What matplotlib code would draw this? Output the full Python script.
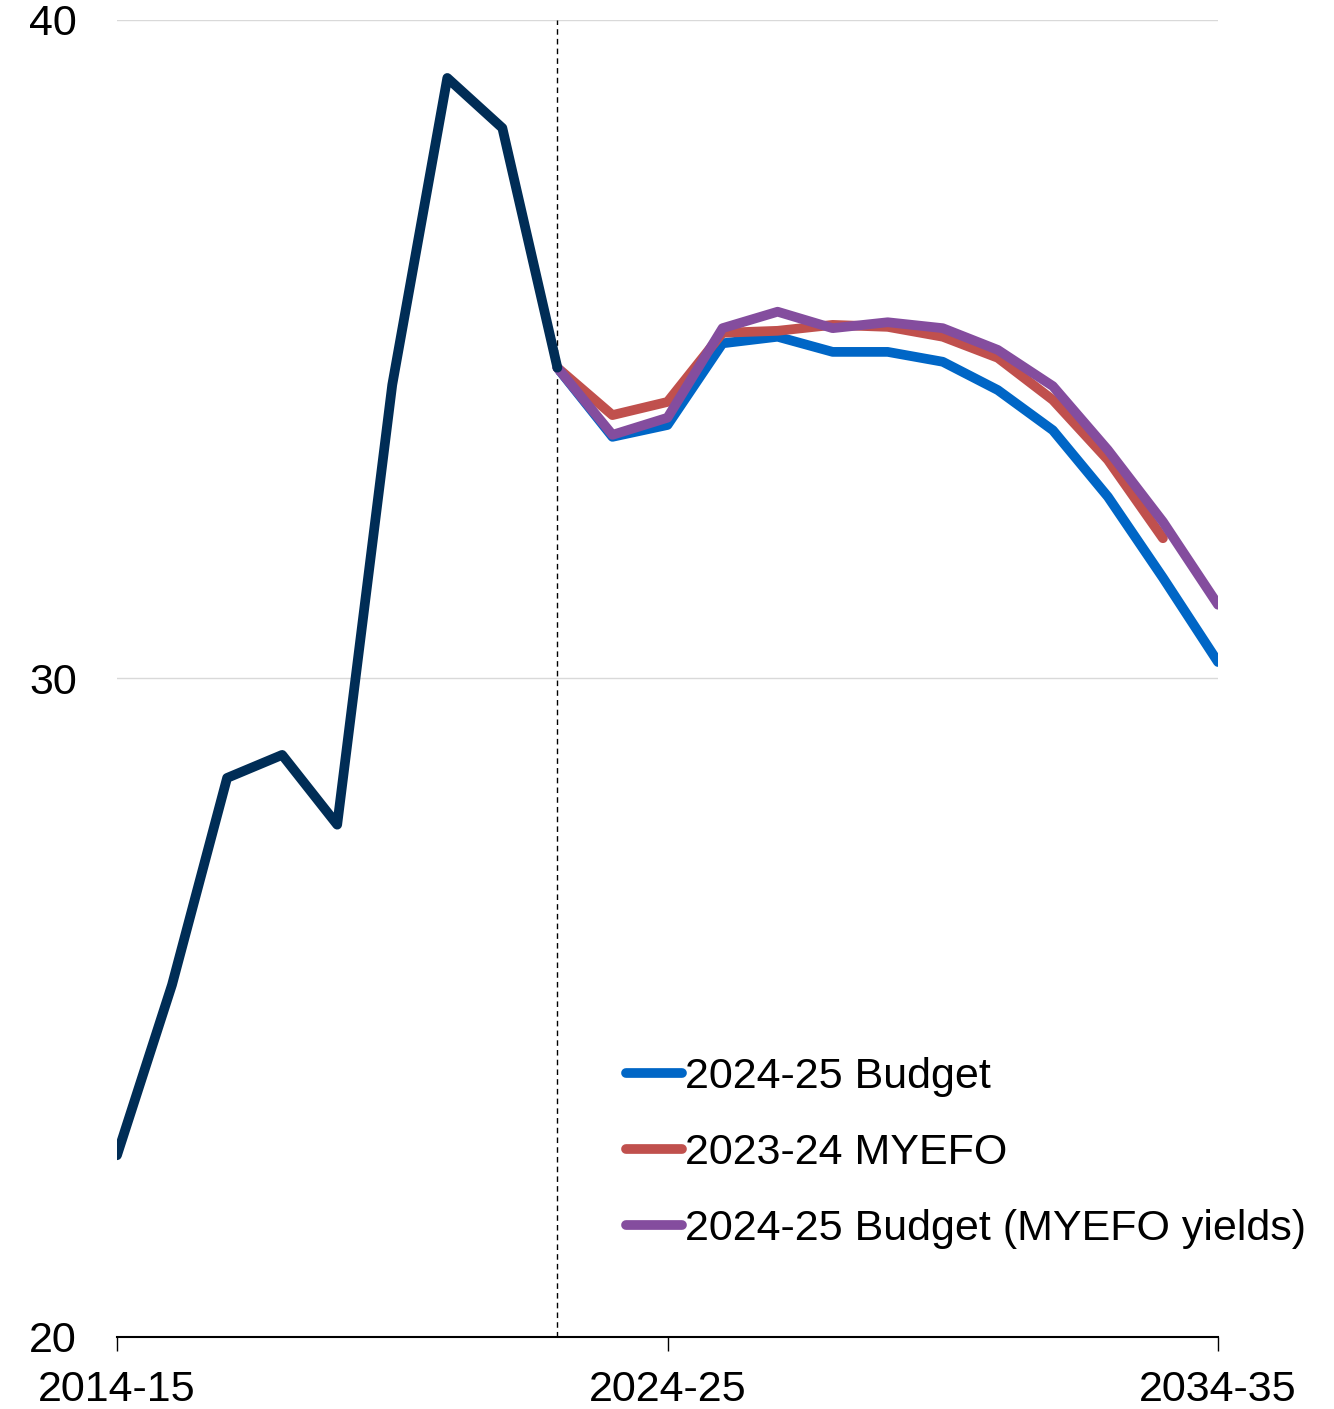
import numpy as np
import matplotlib.pyplot as plt

plt.rcParams['font.family'] = ['Liberation Sans', 'DejaVu Sans']

YEAR_LABELS = ['2014-15', '2024-25', '2034-35']
YEAR_TICKS = [0, 10, 20]

# history, 2014-15 to 2022-23
history_x = list(range(0, 9))
history = [22.76, 25.35, 28.49, 28.84, 27.78, 34.46, 39.12, 38.36, 34.72]

# projections start from 2022-23
budget_x = list(range(8, 21))
budget = [34.72, 33.67, 33.85, 35.09, 35.19, 34.96, 34.96, 34.81, 34.38, 33.77, 32.76, 31.53, 30.25]

myefo_x = list(range(8, 20))
myefo = [34.72, 34.00, 34.20, 35.25, 35.28, 35.37, 35.34, 35.19, 34.87, 34.23, 33.32, 32.13]

budget_myefo_x = list(range(8, 21))
budget_myefo = [34.72, 33.70, 33.96, 35.32, 35.57, 35.32, 35.41, 35.32, 34.99, 34.44, 33.47, 32.38, 31.12]

fig = plt.figure(figsize=(13.34, 14.09), dpi=100)
ax = fig.add_axes([117 / 1334, 1 - 1337 / 1409, (1218 - 117) / 1334, (1337 - 20) / 1409])

lw = 7
ax.plot(budget_x, budget, color='#0066C6', lw=lw, solid_joinstyle='round', solid_capstyle='round',
        label='2024-25 Budget', zorder=3)
ax.plot(myefo_x, myefo, color='#C0504D', lw=lw, solid_joinstyle='round', solid_capstyle='round',
        label='2023-24 MYEFO', zorder=4)
ax.plot(budget_myefo_x, budget_myefo, color='#844D9E', lw=lw, solid_joinstyle='round',
        solid_capstyle='round', label='2024-25 Budget (MYEFO yields)', zorder=5)
ax.plot(history_x, history, color='#002D56', lw=lw, solid_joinstyle='round', solid_capstyle='round',
        zorder=6)

ax.axvline(8, color='black', lw=1, linestyle=(0, (4, 3)), zorder=2)

ax.set_xlim(0, 20)
ax.set_ylim(20, 40)
ax.set_yticks([20, 30, 40])
ax.set_xticks(YEAR_TICKS)
ax.set_xticklabels(YEAR_LABELS)
ax.grid(axis='y', color='#D9D9D9', lw=1)
ax.set_axisbelow(True)

for side in ['top', 'right', 'left']:
    ax.spines[side].set_visible(False)
ax.spines['bottom'].set_linewidth(1.5)
ax.spines['bottom'].set_zorder(7)

ax.tick_params(axis='y', length=0, pad=29, labelsize=31)
ax.tick_params(axis='x', length=10, width=1, direction='out', pad=14, labelsize=31)

fig.legend(loc='upper left', bbox_to_anchor=(626 / 1334, 1 - 1057 / 1409), frameon=False,
           fontsize=31, handlelength=1.3, handletextpad=0.08, labelspacing=0.84,
           borderpad=0, borderaxespad=0)

fig.savefig('out.png', dpi=100)
